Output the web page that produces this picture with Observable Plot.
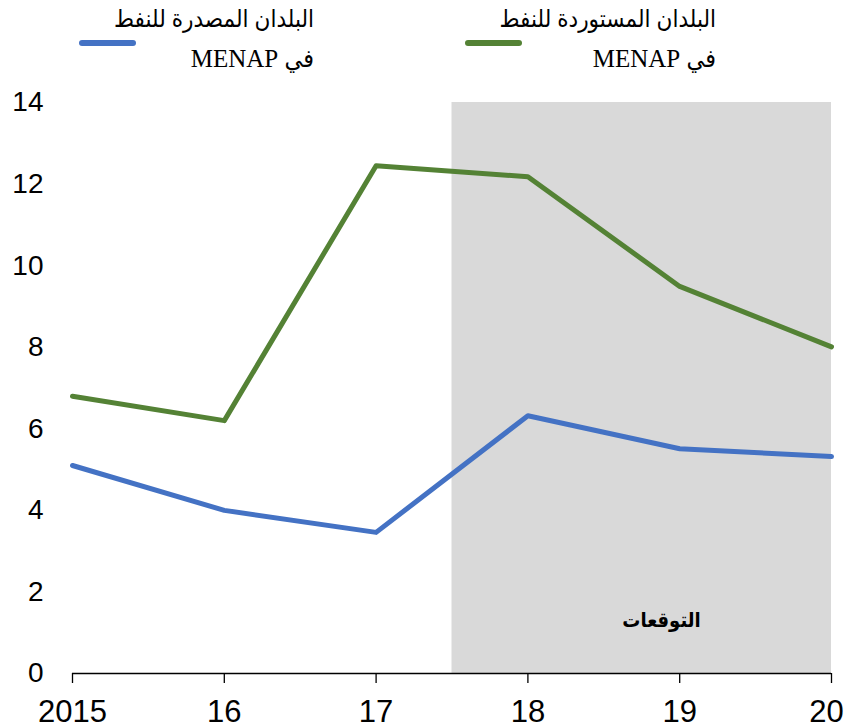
<!DOCTYPE html>
<html>
<head>
<meta charset="utf-8">
<script src="https://cdn.jsdelivr.net/npm/d3@7"></script>
<script src="https://cdn.jsdelivr.net/npm/@observablehq/plot@0.6"></script>
<style>
  html, body { margin: 0; padding: 0; background: #fff; }
  #wrap { position: relative; width: 846px; height: 728px; overflow: hidden; }
  #legend { position: relative; width: 846px; height: 90px; }
  .lg-line { position: absolute; height: 6px; border-radius: 3px; }
  .lg-text { position: absolute; direction: rtl; text-align: right; white-space: nowrap;
             font-family: "Liberation Serif", "DejaVu Sans Condensed", "DejaVu Sans", serif; color: #000; line-height: 1; }
  .l1 { font-size: 24px; }
  .l2 { font-size: 25px; }
</style>
</head>
<body>
<div id="wrap">
  <div id="legend"></div>
  <div id="chart"></div>
</div>
<script>
const years = [2015, 2016, 2017, 2018, 2019, 2020];
const exporters = [5.1, 4.0, 3.46, 6.32, 5.51, 5.32];
const importers = [6.8, 6.2, 12.45, 12.18, 9.49, 8.01];
const seriesNames = ["البلدان المصدرة للنفط", "البلدان المستوردة للنفط"];
const seriesSub = "في MENAP";
const seriesColors = ["#4472c4", "#548235"];
const forecastLabel = "التوقعات";
const forecastStart = 2017.5;
const yTicks = [0, 2, 4, 6, 8, 10, 12, 14];

const data = [];
years.forEach((yr, i) => {
  data.push({year: yr, value: exporters[i], series: seriesNames[0]});
  data.push({year: yr, value: importers[i], series: seriesNames[1]});
});

// legend
const legend = document.getElementById("legend");
const legendPos = [
  {lineX: 79, textRight: 846 - 314},
  {lineX: 465, textRight: 846 - 716}
];
seriesNames.forEach((name, i) => {
  const p = legendPos[i];
  const ln = document.createElement("div");
  ln.className = "lg-line";
  ln.style.left = p.lineX + "px";
  ln.style.top = "40px";
  ln.style.width = "57px";
  ln.style.background = seriesColors[i];
  legend.appendChild(ln);
  const t1 = document.createElement("div");
  t1.className = "lg-text l1";
  t1.style.right = p.textRight + "px";
  t1.style.top = "7px";
  t1.textContent = name;
  legend.appendChild(t1);
  const t2 = document.createElement("div");
  t2.className = "lg-text l2";
  t2.style.right = p.textRight + "px";
  t2.style.top = "46px";
  t2.textContent = seriesSub;
  legend.appendChild(t2);
});

const fmtYear = d => d === 2015 ? "2015" : String(d).slice(2);
const chart = Plot.plot({
  width: 846,
  height: 638,
  marginTop: 12,
  marginBottom: 55,
  marginLeft: 72,
  marginRight: 15,
  style: {fontFamily: "'Liberation Sans', Arial, sans-serif", overflow: "visible"},
  x: {domain: [2015, 2020]},
  y: {domain: [0, 14]},
  color: {domain: seriesNames, range: seriesColors},
  marks: [
    Plot.rect([{x1: forecastStart, x2: years[years.length - 1], y1: 0, y2: 14}],
      {x1: "x1", x2: "x2", y1: "y1", y2: "y2", fill: "#d9d9d9"}),
    Plot.axisY({ticks: yTicks, tickSize: 0, tickPadding: 29, fontSize: 28,
      tickFormat: d => String(d)}),
    Plot.axisX({ticks: years, tickSize: 10, tickPadding: 16, fontSize: 31,
      stroke: "#000", strokeWidth: 1.3, text: null}),
    Plot.axisX({ticks: years.slice(0, -1), tickSize: 10, tickPadding: 16, fontSize: 31,
      tickFormat: fmtYear, stroke: null}),
    Plot.axisX({ticks: years.slice(-1), tickSize: 10, tickPadding: 16, fontSize: 31,
      tickFormat: fmtYear, stroke: null, dx: -5}),
    Plot.ruleY([0], {stroke: "#000", strokeWidth: 1.3}),
    Plot.line(data, {x: "year", y: "value", stroke: "series", strokeWidth: 5, z: "series"}),
    Plot.text([{x: 2018.88, y: 1.3}], {x: "x", y: "y", text: () => forecastLabel,
      fontSize: 20, fontWeight: "bold", fill: "#000",
      fontFamily: "'DejaVu Sans Condensed', 'DejaVu Sans', sans-serif"})
  ]
});
document.getElementById("chart").appendChild(chart);
</script>
</body>
</html>
